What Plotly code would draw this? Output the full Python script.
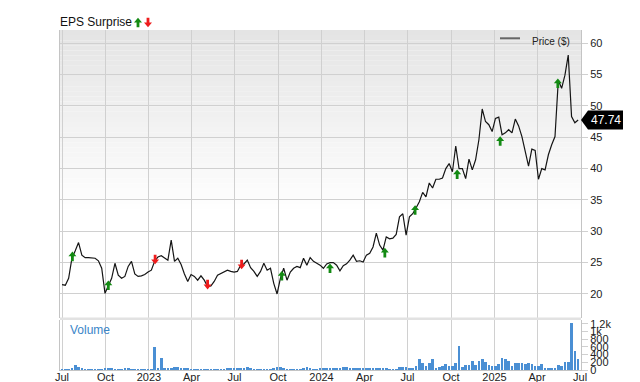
import plotly.graph_objects as go
import pandas as pd

# ---------------- data ----------------
start_date = "2022-07-01"
price = [21.5, 21.4, 22.5, 25.7, 26.9, 28.2, 26.2, 25.8, 25.8, 25.8,
         25.7, 25.3, 24.1, 20.1, 21.4, 22.5, 24.9, 23.0, 22.5, 22.8,
         24.4, 25.2, 23.2, 22.8, 22.9, 23.1, 23.5, 23.8, 25.2, 25.9,
         26.1, 25.7, 25.4, 28.6, 25.2, 25.7, 24.7, 23.2, 22.0, 23.1,
         22.8, 22.2, 22.9, 22.2, 21.2, 21.3, 22.0, 23.0, 23.3, 23.6,
         23.8, 23.6, 23.5, 23.6, 24.6, 24.8, 25.4, 24.2, 23.6, 22.8,
         23.6, 24.9, 23.8, 24.1, 21.7, 20.0, 22.5, 24.1, 22.2, 23.5,
         24.1, 24.4, 24.2, 25.7, 24.6, 25.8, 25.2, 24.9, 24.6, 24.1,
         24.8, 25.0, 25.0, 24.6, 23.7, 24.5, 24.8, 25.4, 26.2, 25.2,
         25.3, 25.1, 26.2, 26.5, 27.5, 29.7, 27.8, 27.0, 29.1, 28.8,
         28.9, 29.5, 32.3, 32.8, 29.4, 32.3, 32.8, 33.7, 34.7, 36.2,
         35.5, 37.7, 36.9, 38.3, 38.3, 38.5, 40.0, 40.8, 39.5, 43.6,
         40.0, 40.0, 38.4, 41.5, 39.8, 41.4, 44.6, 49.5, 47.5, 47.0,
         45.9, 48.0, 48.2, 45.4, 45.7, 46.2, 45.7, 47.9, 46.8, 45.1,
         42.7, 40.4, 43.1, 42.9, 38.3, 40.0, 39.8, 42.2, 43.8, 45.1,
         54.1, 52.8, 54.9, 58.1, 48.3, 47.3, 47.74]

volume = [15, 15, 18, 45, 130, 70, 44, 25, 20, 18,
          18, 20, 18, 35, 61, 35, 20, 18, 18, 30,
          30, 18, 18, 15, 15, 15, 15, 15, 596, 44,
          316, 35, 35, 61, 70, 79, 50, 35, 50, 25,
          20, 18, 15, 15, 20, 20, 20, 18, 18, 20,
          35, 50, 44, 35, 35, 50, 88, 50, 25, 25,
          20, 20, 20, 25, 61, 79, 79, 35, 25, 20,
          25, 25, 25, 35, 70, 30, 25, 25, 26, 26,
          26, 26, 26, 35, 53, 70, 79, 26, 26, 26,
          26, 26, 35, 26, 26, 53, 26, 26, 44, 18,
          18, 18, 70, 79, 79, 44, 44, 114, 289, 175,
          96, 175, 289, 61, 70, 105, 149, 105, 114, 175,
          623, 70, 132, 132, 228, 132, 246, 289, 202, 140,
          96, 105, 158, 316, 281, 228, 105, 193, 193, 175,
          158, 193, 167, 96, 96, 158, 44, 61, 44, 61,
          132, 114, 219, 219, 1210, 482, 289]

beat_dates = ["2022-07-23", "2022-10-07", "2023-10-09", "2024-01-19", "2024-05-14",
              "2024-07-17", "2024-10-14", "2025-01-13", "2025-05-15"]
beat_values = [26.0, 21.4, 22.9, 24.1, 26.6, 33.4, 39.1, 44.4, 53.6]
miss_dates = ["2023-01-14", "2023-05-05", "2023-07-16"]
miss_values = [25.5, 21.5, 24.7]

x_tick_dates = ["2022-07-01", "2022-10-01", "2023-01-01", "2023-04-01", "2023-07-01",
                "2023-10-01", "2024-01-01", "2024-04-01", "2024-07-01", "2024-10-01",
                "2025-01-01", "2025-04-01", "2025-07-01"]
x_tick_text = ["Jul", "Oct", "2023", "Apr", "Jul", "Oct", "2024", "Apr", "Jul", "Oct",
               "2025", "Apr", "Jul"]
price_ticks = [20, 25, 30, 35, 40, 45, 50, 55, 60]
vol_ticks = [0, 200, 400, 600, 800, 1000, 1200]
vol_tick_text = ["0", "200", "400", "600", "800", "1k", "1.2k"]

dates = pd.date_range(start_date, periods=len(price), freq="7D")
last_price = price[-1]

# ---------------- styles ----------------
FONT = "Liberation Sans, Arial, sans-serif"
GRID = "#d0d0d0"
AXLINE = "#c4c4c4"
GREEN = "#138a13"
RED = "#ee1c1c"
UP = "M-1.4,-4.8 L1.4,-4.8 L1.4,0 L4,0 L0,4.8 L-4,0 L-1.4,0 Z"
DOWN = "M-1.4,4.8 L1.4,4.8 L1.4,0 L4,0 L0,-4.8 L-4,0 L-1.4,0 Z"

PRICE_DOM = [0.1544, 1.0]
VOL_DOM = [0.0, 0.147]
x_range = ["2022-06-26 18:00", "2025-07-03"]

fig = go.Figure()
fig.add_trace(go.Bar(x=dates, y=volume, marker=dict(color="#4a8fd4", line=dict(width=0)),
                     width=5.6 * 86400000, xaxis="x2", yaxis="y2", showlegend=False))
fig.add_trace(go.Scatter(x=dates, y=price, mode="lines", line=dict(color="#151515", width=1.2),
                         xaxis="x", yaxis="y", showlegend=False))

shapes = []
# gradient background of the price panel
N = 36
top_c, bot_c = 228, 255
fade_to = 0.36
for i in range(N):
    f1 = 1.0 - i * (1.0 - fade_to) / N
    f0 = 1.0 - (i + 1) * (1.0 - fade_to) / N
    c = round(top_c + (bot_c - top_c) * (i + 0.5) / N)
    shapes.append(dict(type="rect", xref="x domain", yref="y domain", x0=0, x1=1, y0=f0, y1=f1,
                       fillcolor=f"rgb({c},{c},{c})", line=dict(width=0), layer="below"))
# separator between panels
shapes.append(dict(type="rect", xref="paper", yref="paper", x0=0, x1=1, y0=VOL_DOM[1], y1=PRICE_DOM[0],
                   fillcolor="#e2e2e2", line=dict(width=0), layer="above"))
# EPS arrows
for d, v in zip(beat_dates, beat_values):
    shapes.append(dict(type="path", xref="x", yref="y", xsizemode="pixel", ysizemode="pixel",
                       xanchor=d, yanchor=v, path=UP, fillcolor=GREEN, line=dict(width=0)))
for d, v in zip(miss_dates, miss_values):
    shapes.append(dict(type="path", xref="x", yref="y", xsizemode="pixel", ysizemode="pixel",
                       xanchor=d, yanchor=v, path=DOWN, fillcolor=RED, line=dict(width=0)))
# legend arrows (top-left)
shapes.append(dict(type="path", xref="paper", yref="paper", xsizemode="pixel", ysizemode="pixel",
                   xanchor=0.1497, yanchor=1.022, path=UP, fillcolor=GREEN, line=dict(width=0)))
shapes.append(dict(type="path", xref="paper", yref="paper", xsizemode="pixel", ysizemode="pixel",
                   xanchor=0.1689, yanchor=1.022, path=DOWN, fillcolor=RED, line=dict(width=0)))
# price legend line
shapes.append(dict(type="line", xref="paper", yref="paper", x0=0.8445, x1=0.8829, y0=0.9756, y1=0.9756,
                   line=dict(color="#666666", width=2)))
# last price tag
shapes.append(dict(type="path", xref="paper", yref="y", xsizemode="pixel", ysizemode="pixel",
                   xanchor=1, yanchor=last_price,
                   path="M0,0 L7,9.5 L42,9.5 L42,-9.5 L7,-9.5 Z", fillcolor="#000000",
                   line=dict(width=0)))

annotations = [
    dict(text="EPS Surprise", xref="paper", yref="paper", x=-0.003, y=1.0235, xanchor="left",
         yanchor="middle", showarrow=False, font=dict(family=FONT, size=12, color="#111111")),
    dict(text="Price ($)", xref="paper", yref="paper", x=0.903, y=0.9675, xanchor="left",
         yanchor="middle", showarrow=False, font=dict(family=FONT, size=10, color="#222222")),
    dict(text="Volume", xref="paper", yref="paper", x=0.016, y=0.1176, xanchor="left",
         yanchor="middle", showarrow=False, font=dict(family=FONT, size=12, color="#3a85c8")),
    dict(text=f"{last_price:.2f}", xref="paper", yref="y", x=1, y=last_price, xanchor="center",
         yanchor="middle", xshift=25, showarrow=False, font=dict(family=FONT, size=12, color="#ffffff")),
]

axis_common = dict(showgrid=True, gridcolor=GRID, gridwidth=1, zeroline=False)

fig.update_layout(
    width=640, height=382,
    margin=dict(l=60, r=59, t=30, b=12, autoexpand=False),
    paper_bgcolor="#ffffff", plot_bgcolor="#ffffff",
    font=dict(family=FONT, size=11, color="#222222"),
    showlegend=False, bargap=0,
    xaxis=dict(domain=[0, 1], anchor="y", type="date", range=x_range, tickvals=x_tick_dates,
               showticklabels=False, ticks="", **axis_common),
    xaxis2=dict(domain=[0, 1], anchor="y2", type="date", range=x_range, matches="x",
                tickvals=x_tick_dates, ticktext=x_tick_text, ticks="", ticklabelstandoff=-3,
                tickfont=dict(family=FONT, size=11, color="#222222"),
                showline=True, linecolor=AXLINE, **axis_common),
    yaxis=dict(domain=PRICE_DOM, anchor="x", side="right", range=[16.25, 62.1],
               tickvals=price_ticks, ticks="outside", ticklen=6, tickcolor=GRID,
               showline=True, linecolor=AXLINE, mirror=True,
               tickfont=dict(family=FONT, size=11, color="#222222"), **axis_common),
    yaxis2=dict(domain=VOL_DOM, anchor="x2", side="right", range=[0, 1300],
                tickvals=vol_ticks, ticktext=vol_tick_text, ticks="outside", ticklen=6,
                tickcolor=GRID, showgrid=False, zeroline=False,
                showline=True, linecolor=AXLINE, mirror=True,
                tickfont=dict(family=FONT, size=11, color="#222222")),
    shapes=shapes,
    annotations=annotations,
)

fig.write_html("out.html")
